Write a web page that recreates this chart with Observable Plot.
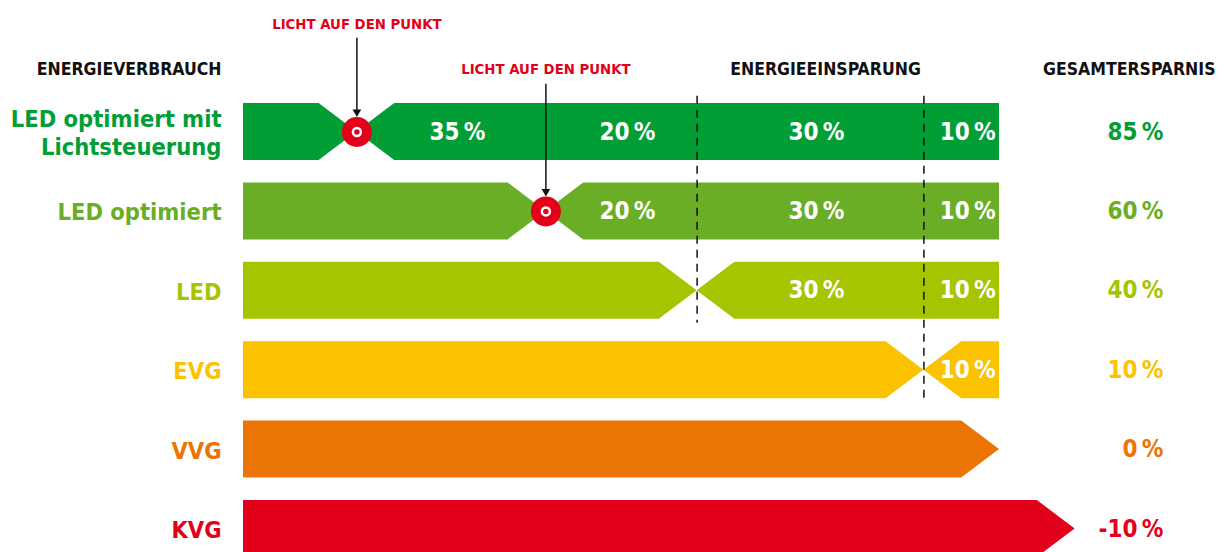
<!DOCTYPE html>
<html><head><meta charset="utf-8">
<script src="https://cdn.jsdelivr.net/npm/d3@7"></script>
<script src="https://cdn.jsdelivr.net/npm/@observablehq/plot@0.6"></script>
<style>body{margin:0;background:#fff;} #chart svg{display:block;}</style>
</head><body><div id="chart"></div>
<script>
// ---- data ----
const categories = ["LED optimiert mit\nLichtsteuerung", "LED optimiert", "LED", "EVG", "VVG", "KVG"];
const consumption = [15, 40, 60, 90, 100, 110];          // energy use, % of VVG
const totalSavings = ["85\u2009%", "60\u2009%", "40\u2009%", "10\u2009%", "0\u2009%", "-10\u2009%"];
const rowColors = ["#009e34", "#69ae25", "#a6c500", "#fbc200", "#ec7404", "#e3001a"];
const stepBounds = [15, 40, 60, 90, 100];
const stepLabels = ["35\u2009%", "20\u2009%", "30\u2009%", "10\u2009%"];
const spotlightRows = [0, 1];
const spotlightText = "LICHT AUF DEN PUNKT";
const dashedAt = [60, 90];
const headerLabels = ["ENERGIEVERBRAUCH", "ENERGIEEINSPARUNG", "GESAMTERSPARNIS"];

// ---- derived tables ----
const H = 0.359, D = 5;
const shapes = [];
categories.forEach((c, i) => {
  const cut = consumption[i], color = rowColors[i];
  [[-H, cut - D], [0, cut], [H, cut - D]].forEach(([dy, x2]) => shapes.push({id: i + "a", y: i + dy, x1: 0, x2, color}));
  if (cut < 100) {
    [[-H, cut + D], [0, cut], [H, cut + D]].forEach(([dy, x1]) => shapes.push({id: i + "b", y: i + dy, x1, x2: 100, color}));
  }
});
const steps = [];
categories.forEach((c, i) => {
  stepLabels.forEach((lab, k) => {
    if (stepBounds[k] >= consumption[i] && consumption[i] < 100)
      steps.push({row: i, x: (stepBounds[k] + stepBounds[k + 1]) / 2, label: lab});
  });
});
const rows = categories.map((c, i) => ({row: i, name: c, total: totalSavings[i], color: rowColors[i], cons: consumption[i]}));
const spots = spotlightRows.map(r => ({row: r, x: consumption[r], textY: r === 0 ? -1.36 : -0.79, lineY: r === 0 ? -1.18 : -0.6}));
const dashes = dashedAt.map(v => ({x: v, y1: -0.45, y2: consumption.indexOf(v) + 0.41}));
const RED = "#e3001a";
const FONT = "'DejaVu Sans Condensed', 'DejaVu Sans', sans-serif";

const chart = Plot.plot({
  width: 1222, height: 552,
  x: {domain: [0, 100], range: [243, 999], axis: null},
  y: {domain: [0, 5], range: [131.5, 528.5], axis: null},
  color: {type: "identity"},
  style: {fontFamily: FONT, background: "#fff"},
  marks: [
    Plot.areaX(shapes, {y: "y", x1: "x1", x2: "x2", z: "id", fill: "color", curve: "linear"}),
    Plot.ruleX(dashes, {x: "x", y1: "y1", y2: "y2", stroke: "#111", strokeWidth: 1.5, strokeDasharray: "8,6"}),
    Plot.text(steps, {x: "x", y: "row", text: "label", dx: 6, fill: "#fff", fontSize: 24, fontWeight: "bold"}),
    // row labels
    Plot.text(rows, {x: 0, y: "row", text: "name", dx: -22, textAnchor: "end", fill: "color", fontSize: 23.5, fontWeight: "bold", lineHeight: 1.19}),
    // totals
    Plot.text(rows, {x: 100, y: "row", text: "total", dx: 164, textAnchor: "end", fill: "color", fontSize: 24, fontWeight: "bold"}),
    // headers
    Plot.text([headerLabels[0]], {x: 0, y: -0.79, text: d => d, dx: -22, textAnchor: "end", fill: "#111", fontSize: 17.5, fontWeight: "bold"}),
    Plot.text([headerLabels[1]], {x: 75, y: -0.79, text: d => d, dx: 15, fill: "#111", fontSize: 17.5, fontWeight: "bold"}),
    Plot.text([headerLabels[2]], {x: 100, y: -0.79, text: d => d, dx: 216, textAnchor: "end", fill: "#111", fontSize: 17.5, fontWeight: "bold"}),
    // spotlight callouts
    Plot.text(spots, {x: "x", y: "textY", text: () => spotlightText, fill: RED, fontSize: 14.8, fontWeight: "bold"}),
    Plot.ruleX(spots, {x: "x", y1: "lineY", y2: d => d.row - 0.25, stroke: "#111", strokeWidth: 1.5}),
    Plot.dot(spots, {x: "x", y: "row", dy: -20, symbol: "triangle", rotate: 180, r: 3.2, fill: "#111"}),
    Plot.dot(spots, {x: "x", y: "row", r: 15, fill: RED}),
    Plot.dot(spots, {x: "x", y: "row", r: 4, fill: RED, stroke: "#fff", strokeWidth: 2.5})
  ]
});
document.getElementById("chart").appendChild(chart);
</script>
</body></html>
